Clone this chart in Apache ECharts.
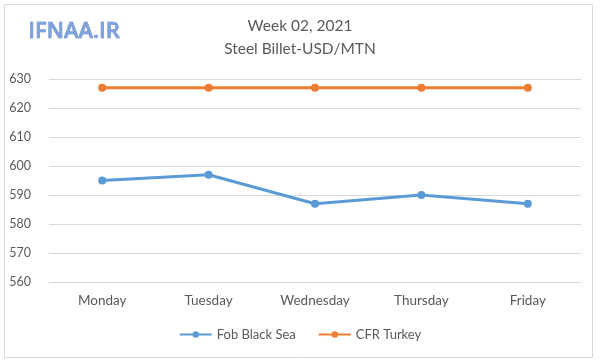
<!DOCTYPE html>
<html><head><meta charset="utf-8">
<script src="https://cdn.jsdelivr.net/npm/echarts@6/dist/echarts.min.js"></script>
<style>html,body{margin:0;padding:0;background:#fff}#c{width:600px;height:362px}</style>
</head><body><div id="c"></div>
<script>
const days = ['Monday','Tuesday','Wednesday','Thursday','Friday'];
const fobBlackSea = [595, 597, 587, 590, 587];
const cfrTurkey = [627, 627, 627, 627, 627];
const yTicks = [560, 570, 580, 590, 600, 610, 620, 630];

const chart = echarts.init(document.getElementById('c'));
const font = 'Lato, "Open Sans", sans-serif';
chart.setOption({
  animation: false,
  backgroundColor: '#fff',
  title: {
    text: 'Week 02, 2021\nSteel Billet-USD/MTN',
    left: 'center', top: 9,
    textStyle: {color: '#595959', fontSize: 15.5, fontWeight: 'normal', fontFamily: font, lineHeight: 23}
  },
  graphic: [
    {type: 'rect', shape: {x: 4.5, y: 4.5, width: 588, height: 353}, style: {fill: 'none', stroke: '#d9d9d9', lineWidth: 1}, z: -1},
    {type: 'text', left: 28, top: 20, style: {text: 'IFNAA.IR', fill: '#7fa3dc', font: '600 22px "Open Sans", sans-serif', stroke: '#4f74b8', lineWidth: 0.6}}
  ],
  legend: {
    bottom: 16, left: 'center', itemGap: 22, itemWidth: 32, itemHeight: 8,
    textStyle: {color: '#595959', fontSize: 13, fontFamily: font},
    data: ['Fob Black Sea', 'CFR Turkey']
  },
  grid: {left: 49, right: 19, top: 79, bottom: 80},
  xAxis: {
    type: 'category', data: days, boundaryGap: true,
    axisLine: {show: false}, axisTick: {show: false},
    axisLabel: {color: '#595959', fontSize: 13.5, fontFamily: font, margin: 12}
  },
  yAxis: {
    type: 'value', min: yTicks[0], max: yTicks[yTicks.length-1], interval: 10,
    axisLine: {show: false}, axisTick: {show: false},
    axisLabel: {color: '#595959', fontSize: 12.5, fontFamily: font, margin: 18},
    splitLine: {lineStyle: {color: '#d9d9d9', width: 1}}
  },
  series: [
    {name: 'Fob Black Sea', type: 'line', data: fobBlackSea, symbol: 'circle', symbolSize: 8,
     lineStyle: {color: '#5b9bd5', width: 3}, itemStyle: {color: '#5b9bd5'}},
    {name: 'CFR Turkey', type: 'line', data: cfrTurkey, symbol: 'circle', symbolSize: 8,
     lineStyle: {color: '#ed7d31', width: 3}, itemStyle: {color: '#ed7d31'}}
  ]
});
</script></body></html>
